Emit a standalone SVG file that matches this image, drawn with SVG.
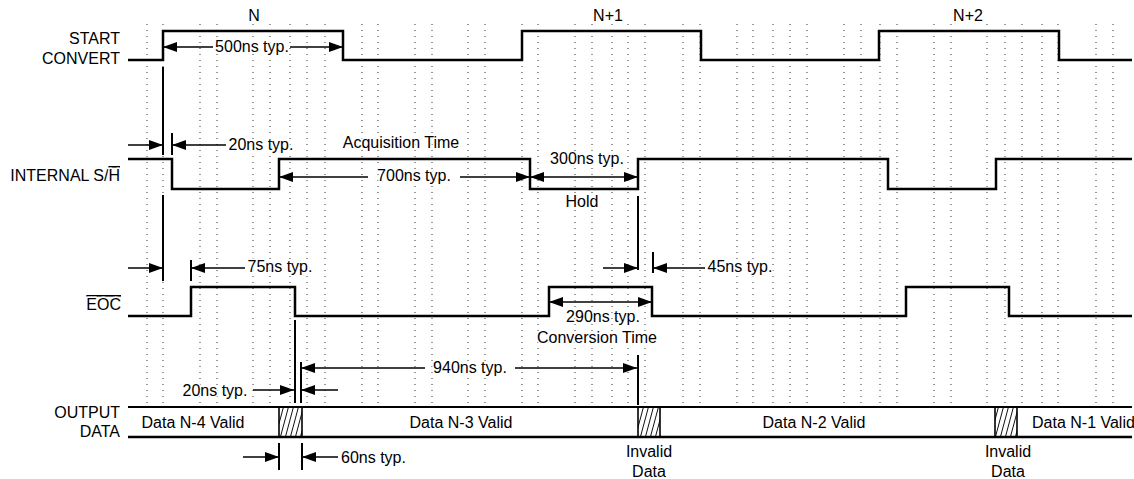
<svg xmlns="http://www.w3.org/2000/svg" width="1134" height="479" viewBox="0 0 1134 479">
<style>
.grid line{stroke:#333;stroke-width:1;stroke-dasharray:1 5}
.t{font-family:"Liberation Sans",Arial,sans-serif;font-size:16px;fill:#000;stroke:#fff;stroke-width:3px;paint-order:stroke;stroke-linejoin:round}
.m{text-anchor:middle}
.e{text-anchor:end}
.sig{fill:none;stroke:#000;stroke-width:2.5;stroke-linejoin:miter}
.ref{stroke:#000;stroke-width:2}
.dim{stroke:#000;stroke-width:1.6;fill:none;marker-end:url(#ah)}
.dd{stroke:#000;stroke-width:1.6;fill:none;marker-end:url(#ah);marker-start:url(#ah)}
</style>
<defs>
<marker id="ah" viewBox="0 0 14 10" refX="14" refY="5" markerWidth="14" markerHeight="10" markerUnits="userSpaceOnUse" orient="auto-start-reverse">
<path d="M0,0 L14,5 L0,10 z" fill="#000"/>
</marker>
<pattern id="hatch" patternUnits="userSpaceOnUse" width="5" height="10" patternTransform="skewX(-15)">
<line x1="2.5" y1="-1" x2="2.5" y2="11" stroke="#000" stroke-width="0.9"/>
</pattern>
</defs>
<rect width="1134" height="479" fill="#fff"/>
<g id="grid" class="grid">
<line x1="147" y1="24" x2="147" y2="403"/><line x1="163" y1="24" x2="163" y2="403"/>
<line x1="200" y1="24" x2="200" y2="403"/><line x1="217" y1="24" x2="217" y2="403"/>
<line x1="253" y1="24" x2="253" y2="403"/><line x1="270" y1="24" x2="270" y2="403"/>
<line x1="290" y1="24" x2="290" y2="403"/><line x1="307" y1="24" x2="307" y2="403"/>
<line x1="325" y1="24" x2="325" y2="403"/><line x1="362" y1="24" x2="362" y2="403"/>
<line x1="378" y1="24" x2="378" y2="403"/><line x1="415" y1="24" x2="415" y2="403"/>
<line x1="432" y1="24" x2="432" y2="403"/><line x1="468" y1="24" x2="468" y2="403"/>
<line x1="485" y1="24" x2="485" y2="403"/><line x1="522" y1="24" x2="522" y2="403"/>
<line x1="538" y1="24" x2="538" y2="403"/><line x1="575" y1="24" x2="575" y2="403"/>
<line x1="592" y1="24" x2="592" y2="403"/><line x1="612" y1="24" x2="612" y2="403"/>
<line x1="628" y1="24" x2="628" y2="403"/><line x1="645" y1="24" x2="645" y2="403"/>
<line x1="683" y1="24" x2="683" y2="403"/><line x1="700" y1="24" x2="700" y2="403"/>
<line x1="737" y1="24" x2="737" y2="403"/><line x1="753" y1="24" x2="753" y2="403"/>
<line x1="773" y1="24" x2="773" y2="403"/><line x1="790" y1="24" x2="790" y2="403"/>
<line x1="807" y1="24" x2="807" y2="403"/><line x1="844" y1="24" x2="844" y2="403"/>
<line x1="861" y1="24" x2="861" y2="403"/><line x1="880" y1="24" x2="880" y2="403"/>
<line x1="897" y1="24" x2="897" y2="403"/><line x1="934" y1="24" x2="934" y2="403"/>
<line x1="951" y1="24" x2="951" y2="403"/><line x1="987" y1="24" x2="987" y2="403"/>
<line x1="1005" y1="24" x2="1005" y2="403"/><line x1="1022" y1="24" x2="1022" y2="403"/>
<line x1="1042" y1="24" x2="1042" y2="403"/><line x1="1058" y1="24" x2="1058" y2="403"/>
<line x1="1096" y1="24" x2="1096" y2="403"/><line x1="1113" y1="24" x2="1113" y2="403"/>
</g>
<g id="labels">
<text class="t m" x="254" y="21">N</text>
<text class="t m" x="608" y="21">N+1</text>
<text class="t m" x="968" y="21">N+2</text>
<text class="t m" x="252" y="52">500ns typ.</text>
<text class="t m" x="261" y="150">20ns typ.</text>
<text class="t m" x="401" y="148">Acquisition Time</text>
<text class="t m" x="414" y="181">700ns typ.</text>
<text class="t m" x="587" y="164">300ns typ.</text>
<text class="t m" x="582" y="207">Hold</text>
<text class="t m" x="280" y="272">75ns typ.</text>
<text class="t m" x="740" y="272">45ns typ.</text>
<text class="t m" x="603" y="322">290ns typ.</text>
<text class="t m" x="597" y="343">Conversion Time</text>
<text class="t m" x="470" y="373">940ns typ.</text>
<text class="t m" x="215" y="396">20ns typ.</text>
<text class="t" x="341" y="463">60ns typ.</text>
<text class="t m" x="649" y="457">Invalid</text>
<text class="t m" x="649" y="477">Data</text>
<text class="t m" x="1008" y="457">Invalid</text>
<text class="t m" x="1008" y="477">Data</text>
</g>
<g id="start-convert">
<text class="t e" x="120" y="44">START</text>
<text class="t e" x="120" y="64">CONVERT</text>
<polyline class="sig" points="128,60 163,60 163,31 343,31 343,60 522,60 522,31 701,31 701,60 879,60 879,31 1059,31 1059,60 1132,60"/>
</g>
<g id="internal-sh">
<text class="t e" x="120" y="181">INTERNAL S/<tspan text-decoration="overline">H</tspan></text>
<polyline class="sig" points="128,159 172,159 172,189 279,189 279,159 530,159 530,189 638,189 638,159 888,159 888,189 996,189 996,159 1132,159"/>
</g>
<g id="eoc">
<text class="t e" x="121" y="310" text-decoration="overline">EOC</text>
<polyline class="sig" points="128,316 191,316 191,287 295,287 295,316 549,316 549,287 652,287 652,316 906,316 906,287 1009,287 1009,316 1132,316"/>
</g>
<g id="output-data">
<text class="t e" x="120" y="418">OUTPUT</text>
<text class="t e" x="120" y="437">DATA</text>
<rect x="279" y="407" width="23" height="30" fill="url(#hatch)"/>
<rect x="638" y="407" width="22" height="30" fill="url(#hatch)"/>
<rect x="995" y="407" width="22" height="30" fill="url(#hatch)"/>
<line x1="128" y1="407" x2="1132" y2="407" stroke="#000" stroke-width="2"/>
<line x1="128" y1="437" x2="1132" y2="437" stroke="#000" stroke-width="2.6"/>
<g stroke="#000" stroke-width="1.6">
<line x1="279" y1="407" x2="279" y2="437"/><line x1="302" y1="407" x2="302" y2="437"/>
<line x1="638" y1="407" x2="638" y2="437"/><line x1="660" y1="407" x2="660" y2="437"/>
<line x1="995" y1="407" x2="995" y2="437"/><line x1="1017" y1="407" x2="1017" y2="437"/>
</g>
<text class="t m" x="193" y="428">Data N-4 Valid</text>
<text class="t m" x="461" y="428">Data N-3 Valid</text>
<text class="t m" x="814" y="428">Data N-2 Valid</text>
<text class="t" x="1032" y="428">Data N-1 Valid</text>
</g>
<g id="connectors">
<line class="ref" x1="163" y1="67" x2="163" y2="155"/>
<line class="ref" x1="163" y1="195" x2="163" y2="281"/>
<line class="ref" x1="172" y1="133" x2="172" y2="155"/>
<line class="ref" x1="191" y1="260" x2="191" y2="281"/>
<line class="ref" x1="295" y1="320" x2="295" y2="403"/>
<line class="ref" x1="301" y1="362" x2="301" y2="403"/>
<line class="ref" x1="638" y1="196" x2="638" y2="270"/>
<line class="ref" x1="638" y1="355" x2="638" y2="405"/>
<line class="ref" x1="653" y1="252" x2="653" y2="273"/>
<line class="ref" x1="279" y1="443" x2="279" y2="470"/>
<line class="ref" x1="302" y1="443" x2="302" y2="470"/>
<line class="dim" x1="213" y1="47" x2="163" y2="47"/>
<line class="dim" x1="290" y1="47" x2="343" y2="47"/>
<line class="dim" x1="128" y1="145" x2="163" y2="145"/>
<line class="dim" x1="226" y1="145" x2="172" y2="145"/>
<line class="dim" x1="368" y1="177" x2="279" y2="177"/>
<line class="dim" x1="460" y1="177" x2="530" y2="177"/>
<line class="dd" x1="530" y1="177" x2="638" y2="177"/>
<line class="dim" x1="128" y1="268" x2="163" y2="268"/>
<line class="dim" x1="245" y1="268" x2="191" y2="268"/>
<line class="dim" x1="603" y1="268" x2="638" y2="268"/>
<line class="dim" x1="705" y1="268" x2="653" y2="268"/>
<line class="dd" x1="549" y1="302" x2="652" y2="302"/>
<line class="dim" x1="425" y1="368" x2="301" y2="368"/>
<line class="dim" x1="515" y1="368" x2="637" y2="368"/>
<line class="dim" x1="253" y1="390" x2="294" y2="390"/>
<line class="dim" x1="338" y1="390" x2="301" y2="390"/>
<line class="dim" x1="243" y1="457" x2="279" y2="457"/>
<line class="dim" x1="338" y1="457" x2="302" y2="457"/>
</g>
</svg>
